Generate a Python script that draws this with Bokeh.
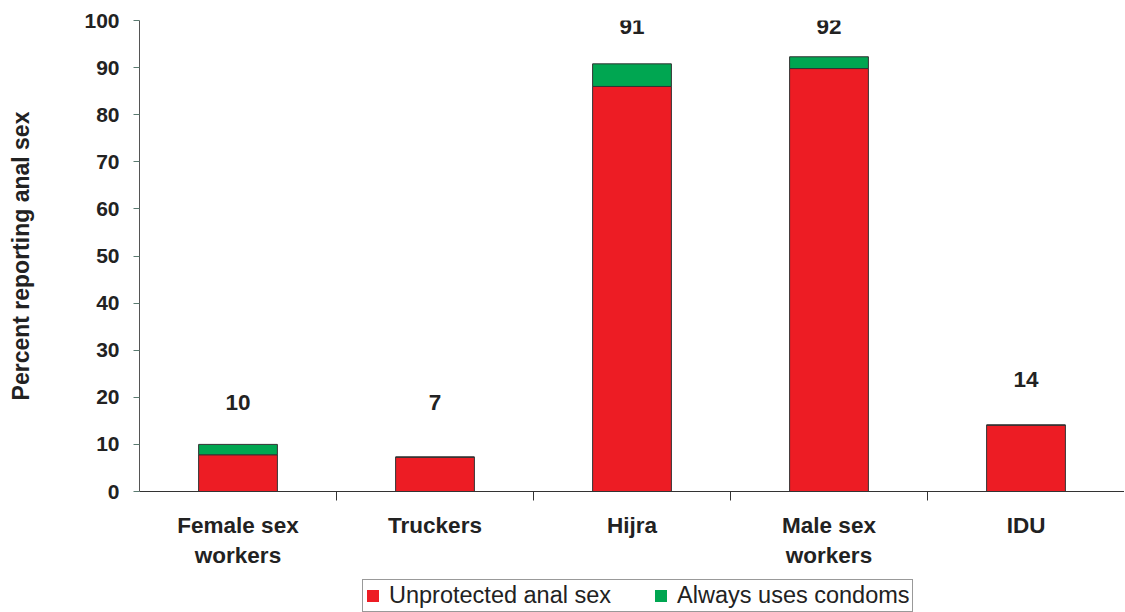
from bokeh.plotting import figure
from bokeh.layouts import column
from bokeh.models import ColumnDataSource, Range1d, FixedTicker, Legend, LegendItem
from bokeh.core.properties import value
from bokeh.embed import file_html
from bokeh.resources import INLINE

categories = ["Female sex\nworkers", "Truckers", "Hijra", "Male sex\nworkers", "IDU"]
unprotected = [7.8, 7.3, 86.0, 89.8, 14.1]
always_condoms = [2.2, 0.0, 4.8, 2.5, 0.0]
total_labels = ["10", "7", "91", "92", "14"]
label_y = [19.0, 19.0, 98.8, 98.8, 23.7]
series_names = ["Unprotected anal sex", "Always uses condoms"]
y_ticks = [0, 10, 20, 30, 40, 50, 60, 70, 80, 90, 100]

RED = "#ED1C24"
GREEN = "#00A651"
FONT = "Liberation Sans"
COLORS = [RED, GREEN]

xs = [i + 0.5 for i in range(len(categories))]
source = ColumnDataSource(dict(x=xs, unprotected=unprotected, always=always_condoms))
lab_src = ColumnDataSource(dict(x=xs, y=label_y, t=total_labels))

p = figure(frame_width=985, frame_height=471, output_backend="svg", toolbar_location=None,
           x_range=Range1d(0, len(categories)), y_range=Range1d(0, 100),
           min_border_top=20, min_border_left=139, min_border_right=0, min_border_bottom=84)
p.outline_line_color = None
p.grid.grid_line_color = None

rs = p.vbar_stack(["unprotected", "always"], x="x", width=0.4, source=source,
                  fill_color=COLORS, line_color="#333333", line_width=1)

p.text(x="x", y="y", text="t", source=lab_src, text_font=value(FONT),
       text_font_style="bold", text_font_size="22.5px", text_align="center",
       text_baseline="middle", text_color="#222222")

# x axis
p.xaxis.ticker = FixedTicker(ticks=xs, minor_ticks=[1, 2, 3, 4])
p.xaxis.major_label_overrides = {x: c for x, c in zip(xs, categories)}
p.xaxis.major_tick_line_color = None
p.xaxis.major_tick_out = 0
p.xaxis.minor_tick_out = 9
p.xaxis.minor_tick_in = 0
p.xaxis.minor_tick_line_color = "#333333"
p.xaxis.axis_line_color = "#333333"
p.xaxis.major_label_text_font = FONT
p.xaxis.major_label_text_font_style = "bold"
p.xaxis.major_label_text_font_size = "22.5px"
p.xaxis.major_label_text_color = "#222222"
p.xaxis.major_label_standoff = 12

# y axis
p.yaxis.ticker = FixedTicker(ticks=y_ticks)
p.yaxis.minor_tick_line_color = None
p.yaxis.major_tick_in = 0
p.yaxis.major_tick_out = 6
p.yaxis.major_tick_line_color = "#5a7a70"
p.yaxis.axis_line_color = "#555555"
p.yaxis.major_label_text_font = FONT
p.yaxis.major_label_text_font_style = "bold"
p.yaxis.major_label_text_font_size = "21px"
p.yaxis.major_label_text_color = "#222222"
p.yaxis.major_label_standoff = 14
p.yaxis.axis_label = "Percent reporting anal sex"
p.yaxis.axis_label_text_font = FONT
p.yaxis.axis_label_text_font_style = "bold"
p.yaxis.axis_label_text_font_size = "23px"
p.yaxis.axis_label_text_color = "#222222"
p.yaxis.axis_label_standoff = 47

# legend strip below the chart (frame aligned with the chart's frame)
lg = figure(frame_width=985, frame_height=37, output_backend="svg", toolbar_location=None,
            x_range=Range1d(0, 1), y_range=Range1d(0, 1),
            x_axis_location=None, y_axis_location=None,
            min_border_top=0, min_border_left=139, min_border_right=0, min_border_bottom=0)
lg.outline_line_color = None
lg.grid.visible = False
# zero-height swatch renderers: only their legend glyphs are seen
dummy = [lg.vbar(x=[0.5], top=[0], bottom=[0], width=0.001, fill_color=COLORS[i], line_color=None)
         for i in range(len(series_names))]
legend = Legend(items=[LegendItem(label=series_names[i], renderers=[dummy[i]]) for i in range(2)],
                orientation="horizontal", location=(223, 0),
                label_text_font=FONT, label_text_font_size="23.5px", label_text_color="#222222",
                label_text_line_height=1.0,
                glyph_width=15, glyph_height=15, label_standoff=9, spacing=42,
                padding=2, margin=0, border_line_color="#333333", border_line_width=1,
                label_height=20)
lg.add_layout(legend, "center")

layout = column(p, lg, spacing=0)
open("out.html", "w").write(file_html(layout, INLINE))
